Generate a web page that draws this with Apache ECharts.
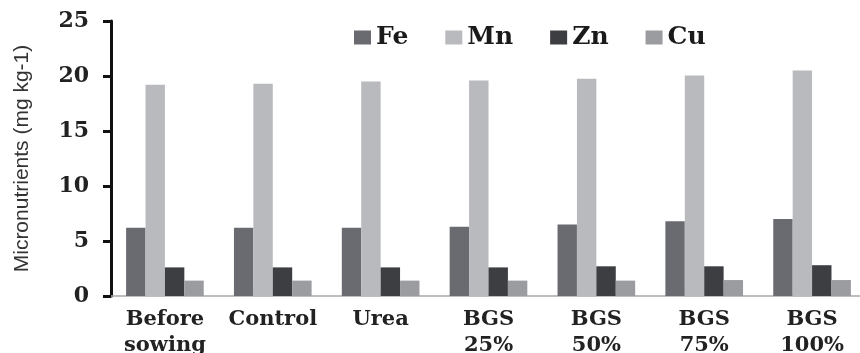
<!DOCTYPE html>
<html><head><meta charset="utf-8">
<script src="https://cdn.jsdelivr.net/npm/echarts@6/dist/echarts.min.js"></script>
<style>html,body{margin:0;padding:0;background:#fff}#c{width:860px;height:353px}</style>
</head><body><div id="c"></div>
<script>
const categories = ['Before\nsowing', 'Control', 'Urea', 'BGS\n25%', 'BGS\n50%', 'BGS\n75%', 'BGS\n100%'];
const fe = [6.2, 6.2, 6.2, 6.3, 6.5, 6.8, 7.0];
const mn = [19.2, 19.3, 19.5, 19.6, 19.75, 20.05, 20.5];
const zn = [2.6, 2.6, 2.6, 2.6, 2.7, 2.7, 2.8];
const cu = [1.4, 1.4, 1.4, 1.4, 1.4, 1.45, 1.45];
const seriesNames = ['Fe', 'Mn', 'Zn', 'Cu'];
const colors = ['#6a6b70', '#b9babe', '#3d3e42', '#9b9ca0'];

const serif = '"DejaVu Serif", "Liberation Serif", serif';
const chart = echarts.init(document.getElementById('c'), null, {renderer: 'canvas'});
const dataArr = [fe, mn, zn, cu];
chart.setOption({
  animation: false,
  color: colors,
  grid: {left: 111, right: -6, top: 21, bottom: 57, containLabel: false, outerBoundsMode: 'none'},
  legend: {
    data: seriesNames,
    left: 349, top: 20,
    itemWidth: 17, itemHeight: 14, itemGap: 37,
    icon: 'rect',
    textStyle: {fontFamily: serif, fontWeight: 'bold', fontSize: 25, color: '#1a1a1a'}
  },
  xAxis: {
    type: 'category',
    data: categories,
    axisLine: {lineStyle: {color: '#a8a8a8', width: 1.5}},
    axisTick: {show: false},
    axisLabel: {interval: 0, margin: 11, lineHeight: 26, fontFamily: serif, fontWeight: 'bold', fontSize: 21, color: '#222'}
  },
  yAxis: {
    type: 'value',
    min: 0, max: 25, interval: 5,
    name: 'Micronutrients (mg kg-1)',
    nameLocation: 'middle',
    nameGap: 78,
    nameTextStyle: {fontFamily: '"Liberation Sans", Arial, sans-serif', fontSize: 21, color: '#333'},
    axisLine: {show: true, lineStyle: {color: '#111', width: 3}},
    axisTick: {show: true, length: 8, lineStyle: {color: '#111', width: 3}},
    splitLine: {show: false},
    axisLabel: {margin: 22, fontFamily: serif, fontWeight: 'bold', fontSize: 22, color: '#222'}
  },
  series: seriesNames.map((n, i) => ({
    name: n, type: 'bar', data: dataArr[i],
    barGap: '0%', barCategoryGap: '28%',
    itemStyle: {color: colors[i]}
  }))
});
</script></body></html>
